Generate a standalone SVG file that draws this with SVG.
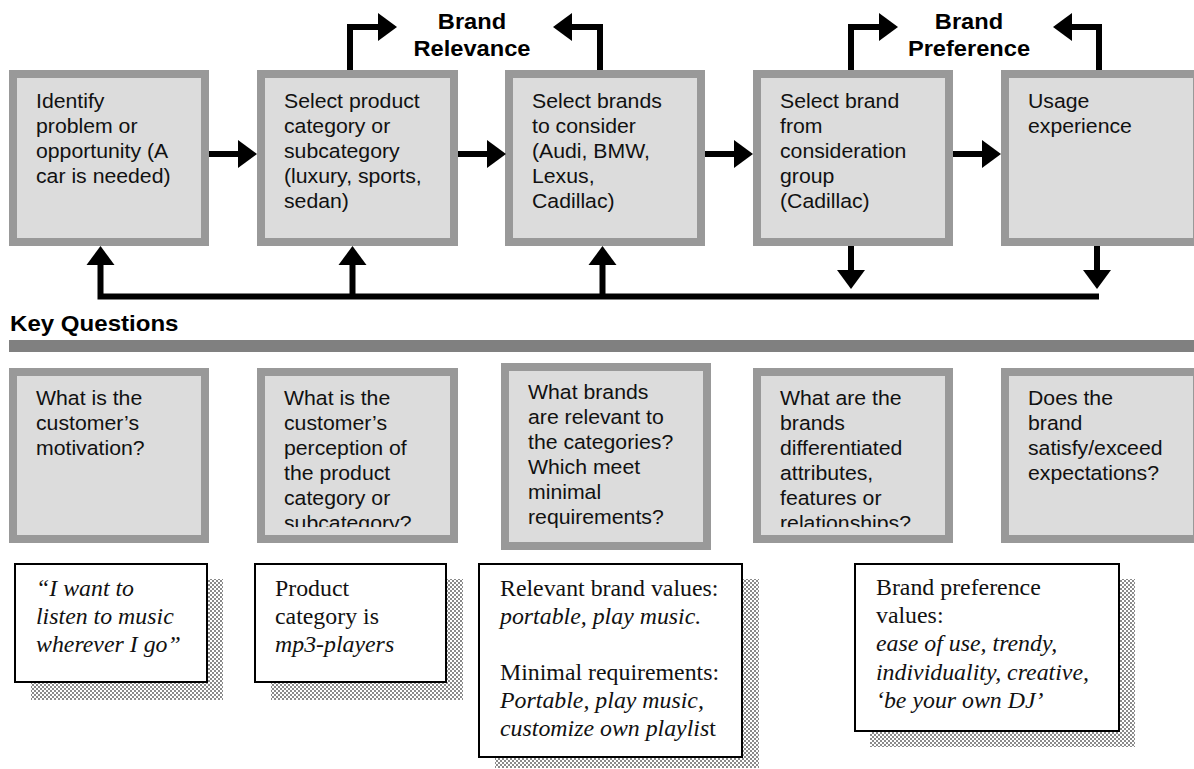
<svg xmlns="http://www.w3.org/2000/svg" width="1194" height="769" viewBox="0 0 1194 769">
  <style>
    .box { fill: #dcdcdc; stroke: #999999; stroke-width: 8; }
    .note { fill: #ffffff; stroke: #000000; stroke-width: 2; }
    .shadow { fill: url(#checker); }
    .sans { font-family: "Liberation Sans", Arial, sans-serif; font-size: 19.5px; fill: #111111; }
    .head { font-family: "Liberation Sans", Arial, sans-serif; font-size: 21.5px; font-weight: bold; fill: #000000; }
    .serif { font-family: "Liberation Serif", "Times New Roman", serif; font-size: 22.5px; fill: #111111; }
    .it { font-style: italic; }
    .up { font-style: normal; }
    .wire { fill: none; stroke: #000000; stroke-width: 6; stroke-linejoin: miter; stroke-linecap: butt; }
  </style>
  <defs>
    <marker id="arrow" markerUnits="userSpaceOnUse" markerWidth="20" markerHeight="29" refX="0" refY="14" orient="auto" overflow="visible">
      <path d="M0,0 L19,14 L0,28 Z" fill="#000000"/>
    </marker>
    <pattern id="checker" patternUnits="userSpaceOnUse" width="4" height="4">
      <rect width="4" height="4" fill="#ffffff"/>
      <rect width="2" height="2" fill="#8a8a8a"/>
      <rect x="2" y="2" width="2" height="2" fill="#8a8a8a"/>
    </pattern>
    <clipPath id="clipQ2"><rect x="257" y="368" width="201" height="159"/></clipPath>
    <clipPath id="clipQ4"><rect x="753" y="368" width="200" height="159"/></clipPath>
  </defs>

  <!-- decision stages -->
  <g id="stage-identify">
    <rect class="box" x="13" y="74" width="192" height="168"/>
    <text class="sans" transform="translate(36 108) scale(1.09 1)"><tspan x="0" y="0">Identify</tspan><tspan x="0" y="25">problem or</tspan><tspan x="0" y="50">opportunity (A</tspan><tspan x="0" y="75">car is needed)</tspan></text>
  </g>
  <g id="stage-category">
    <rect class="box" x="261" y="74" width="193" height="168"/>
    <text class="sans" transform="translate(284 108) scale(1.09 1)"><tspan x="0" y="0">Select product</tspan><tspan x="0" y="25">category or</tspan><tspan x="0" y="50">subcategory</tspan><tspan x="0" y="75">(luxury, sports,</tspan><tspan x="0" y="100">sedan)</tspan></text>
  </g>
  <g id="stage-consider">
    <rect class="box" x="509" y="74" width="192" height="168"/>
    <text class="sans" transform="translate(532 108) scale(1.09 1)"><tspan x="0" y="0">Select brands</tspan><tspan x="0" y="25">to consider</tspan><tspan x="0" y="50">(Audi, BMW,</tspan><tspan x="0" y="75">Lexus,</tspan><tspan x="0" y="100">Cadillac)</tspan></text>
  </g>
  <g id="stage-select">
    <rect class="box" x="757" y="74" width="192" height="168"/>
    <text class="sans" transform="translate(780 108) scale(1.09 1)"><tspan x="0" y="0">Select brand</tspan><tspan x="0" y="25">from</tspan><tspan x="0" y="50">consideration</tspan><tspan x="0" y="75">group</tspan><tspan x="0" y="100">(Cadillac)</tspan></text>
  </g>
  <g id="stage-usage">
    <rect class="box" x="1005" y="74" width="192" height="168"/>
    <text class="sans" transform="translate(1028 108) scale(1.09 1)"><tspan x="0" y="0">Usage</tspan><tspan x="0" y="25">experience</tspan></text>
  </g>

  <!-- phase labels -->
  <g id="label-relevance">
    <text class="head" text-anchor="middle" transform="translate(472 29) scale(1.1 1)"><tspan x="0" y="0">Brand</tspan><tspan x="0" y="27">Relevance</tspan></text>
  </g>
  <g id="label-preference">
    <text class="head" text-anchor="middle" transform="translate(969 29) scale(1.1 1)"><tspan x="0" y="0">Brand</tspan><tspan x="0" y="27">Preference</tspan></text>
  </g>

  <!-- connectors -->
  <g id="connectors">
    <path class="wire" d="M209,154 H238" marker-end="url(#arrow)"/>
    <path class="wire" d="M458,154 H487" marker-end="url(#arrow)"/>
    <path class="wire" d="M705,154 H734" marker-end="url(#arrow)"/>
    <path class="wire" d="M953,154 H982" marker-end="url(#arrow)"/>
    <path class="wire" d="M350,70 V27 H378" marker-end="url(#arrow)"/>
    <path class="wire" d="M600,70 V27 H572" marker-end="url(#arrow)"/>
    <path class="wire" d="M851,70 V27 H879" marker-end="url(#arrow)"/>
    <path class="wire" d="M1099,70 V27 H1072" marker-end="url(#arrow)"/>
    <path class="wire" d="M1099,296.5 H100.5 V265" stroke-width="5.5" marker-end="url(#arrow)"/>
    <path class="wire" d="M352.5,296.5 V265" stroke-width="5.5" marker-end="url(#arrow)"/>
    <path class="wire" d="M602.5,296.5 V265" stroke-width="5.5" marker-end="url(#arrow)"/>
    <path class="wire" d="M851,246 V270" stroke-width="5.5" marker-end="url(#arrow)"/>
    <path class="wire" d="M1097,246 V270" stroke-width="5.5" marker-end="url(#arrow)"/>
  </g>

  <!-- key questions header -->
  <g id="key-questions">
    <text class="head" transform="translate(10 331) scale(1.12 1)">Key Questions</text>
    <rect x="9" y="340" width="1185" height="12" fill="#808080"/>
  </g>

  <g id="question-motivation">
    <rect class="box" x="13" y="372" width="192" height="167"/>
    <text class="sans" transform="translate(36 405) scale(1.09 1)"><tspan x="0" y="0">What is the</tspan><tspan x="0" y="25">customer’s</tspan><tspan x="0" y="50">motivation?</tspan></text>
  </g>
  <g id="question-perception">
    <rect class="box" x="261" y="372" width="193" height="167"/>
    <g clip-path="url(#clipQ2)">
      <text class="sans" transform="translate(284 405) scale(1.09 1)"><tspan x="0" y="0">What is the</tspan><tspan x="0" y="25">customer’s</tspan><tspan x="0" y="50">perception of</tspan><tspan x="0" y="75">the product</tspan><tspan x="0" y="100">category or</tspan><tspan x="0" y="125">subcategory?</tspan></text>
    </g>
  </g>
  <g id="question-relevance">
    <rect class="box" x="505" y="367" width="202" height="179"/>
    <text class="sans" transform="translate(528 399) scale(1.09 1)"><tspan x="0" y="0">What brands</tspan><tspan x="0" y="25">are relevant to</tspan><tspan x="0" y="50">the categories?</tspan><tspan x="0" y="75">Which meet</tspan><tspan x="0" y="100">minimal</tspan><tspan x="0" y="125">requirements?</tspan></text>
  </g>
  <g id="question-differentiation">
    <rect class="box" x="757" y="372" width="192" height="167"/>
    <g clip-path="url(#clipQ4)">
      <text class="sans" transform="translate(780 405) scale(1.09 1)"><tspan x="0" y="0">What are the</tspan><tspan x="0" y="25">brands</tspan><tspan x="0" y="50">differentiated</tspan><tspan x="0" y="75">attributes,</tspan><tspan x="0" y="100">features or</tspan><tspan x="0" y="125">relationships?</tspan></text>
    </g>
  </g>
  <g id="question-satisfaction">
    <rect class="box" x="1005" y="372" width="192" height="167"/>
    <text class="sans" transform="translate(1028 405) scale(1.09 1)"><tspan x="0" y="0">Does the</tspan><tspan x="0" y="25">brand</tspan><tspan x="0" y="50">satisfy/exceed</tspan><tspan x="0" y="75">expectations?</tspan></text>
  </g>

  <!-- mp3-player example notes -->
  <g id="note-motivation">
    <rect class="shadow" x="31" y="579" width="192" height="121"/>
    <rect class="note" x="15" y="564" width="192" height="118"/>
    <text class="serif it" transform="translate(36 596) scale(1.06 1)"><tspan x="0" y="0">“I want to</tspan><tspan x="0" y="28">listen to music</tspan><tspan x="0" y="56">wherever I go”</tspan></text>
  </g>
  <g id="note-category">
    <rect class="shadow" x="271" y="579" width="192" height="121"/>
    <rect class="note" x="255" y="564" width="191" height="118"/>
    <text class="serif" transform="translate(275 596) scale(1.06 1)"><tspan x="0" y="0">Product</tspan><tspan x="0" y="28">category is</tspan><tspan class="it" x="0" y="56">mp3-players</tspan></text>
  </g>
  <g id="note-relevance">
    <rect class="shadow" x="495" y="579" width="264" height="189"/>
    <rect class="note" x="479" y="564" width="263" height="193"/>
    <text class="serif" transform="translate(500 596) scale(1.06 1)"><tspan x="0" y="0">Relevant brand values:</tspan><tspan class="it" x="0" y="28">portable, play music.</tspan><tspan x="0" y="84">Minimal requirements:</tspan><tspan class="it" x="0" y="112">Portable, play music,</tspan><tspan class="it" x="0" y="140">customize own playlis</tspan><tspan class="up">t</tspan></text>
  </g>
  <g id="note-preference">
    <rect class="shadow" x="870" y="579" width="265" height="168"/>
    <rect class="note" x="855" y="564" width="264" height="167"/>
    <text class="serif" transform="translate(876 595) scale(1.06 1)"><tspan x="0" y="0">Brand preference</tspan><tspan x="0" y="28">values:</tspan><tspan class="it" x="0" y="56">ease of use, trendy,</tspan><tspan class="it" x="0" y="85">individuality, creative,</tspan><tspan class="it" x="0" y="113">‘be your own DJ’</tspan></text>
  </g>
</svg>
